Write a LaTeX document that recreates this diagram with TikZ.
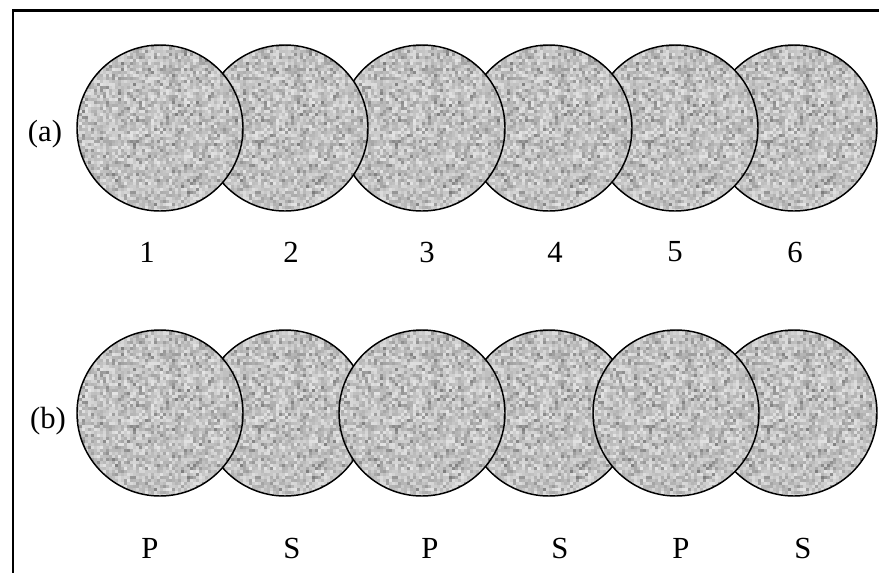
\documentclass[tikz,border=0pt]{standalone}
\usepackage{fontspec}
\setmainfont{Liberation Serif}
\newsavebox{\grainbox}
\begin{document}
\sbox{\grainbox}{\begin{pgfpicture}
  \pgfmathsetseed{4242}
  \foreach \i in {0,...,55}{%
    \foreach \j in {0,...,55}{%
      \pgfmathsetmacro{\g}{10+20*rnd+24*rnd^4}%
      \pgfsetfillcolor{black!\g}%
      \pgfpathrectangle{\pgfpoint{\i*2.25pt}{\j*2.25pt}}{\pgfpoint{2.3pt}{2.3pt}}%
      \pgfusepath{fill}%
    }%
  }%
\end{pgfpicture}}%
\begin{tikzpicture}[x=0.75pt,y=-0.75pt,
  ball/.style={circle, draw=black, line width=1.1pt, minimum size=124.5pt, inner sep=0pt,
    path picture={\node[inner sep=0pt] at (path picture bounding box.center) {\usebox{\grainbox}};}},
  lbl/.style={font=\fontsize{23}{27}\selectfont, inner sep=0pt},
  frame/.style={line width=1.9pt, line cap=rect}]
\useasboundingbox (0,0) rectangle (879,572);
% frame (top and left edges only are visible)
\coordinate (ftl) at (13,10.5);
\coordinate (ftr) at (879,10.5);
\coordinate (fbl) at (13,572);
\draw[frame] (ftr) -- (ftl) -- (fbl);
% row (a): left circle lies over the right one
\node[ball] (a6) at (794,128) {};
\node[ball] (a5) at (675,128) {};
\node[ball] (a4) at (549,128) {};
\node[ball] (a3) at (422,128) {};
\node[ball] (a2) at (285,128) {};
\node[ball] (a1) at (160,128) {};
\node[lbl] (la) at (45,134) {(a)};
\node[lbl] (n1) at (147,252) {1};
\node[lbl] (n2) at (291,252) {2};
\node[lbl] (n3) at (427,252) {3};
\node[lbl] (n4) at (555,252) {4};
\node[lbl] (n5) at (675,252) {5};
\node[lbl] (n6) at (795,252) {6};
% row (b): S circles below, P circles on top
\node[ball] (b2) at (285,413) {};
\node[ball] (b4) at (549,413) {};
\node[ball] (b6) at (794,413) {};
\node[ball] (b1) at (160,413) {};
\node[ball] (b3) at (422,413) {};
\node[ball] (b5) at (676,413) {};
\node[lbl] (lb) at (48,421) {(b)};
\node[lbl] (m1) at (150,548) {P};
\node[lbl] (m2) at (292,548) {S};
\node[lbl] (m3) at (430,548) {P};
\node[lbl] (m4) at (560,548) {S};
\node[lbl] (m5) at (681,548) {P};
\node[lbl] (m6) at (803,548) {S};
\end{tikzpicture}
\end{document}
